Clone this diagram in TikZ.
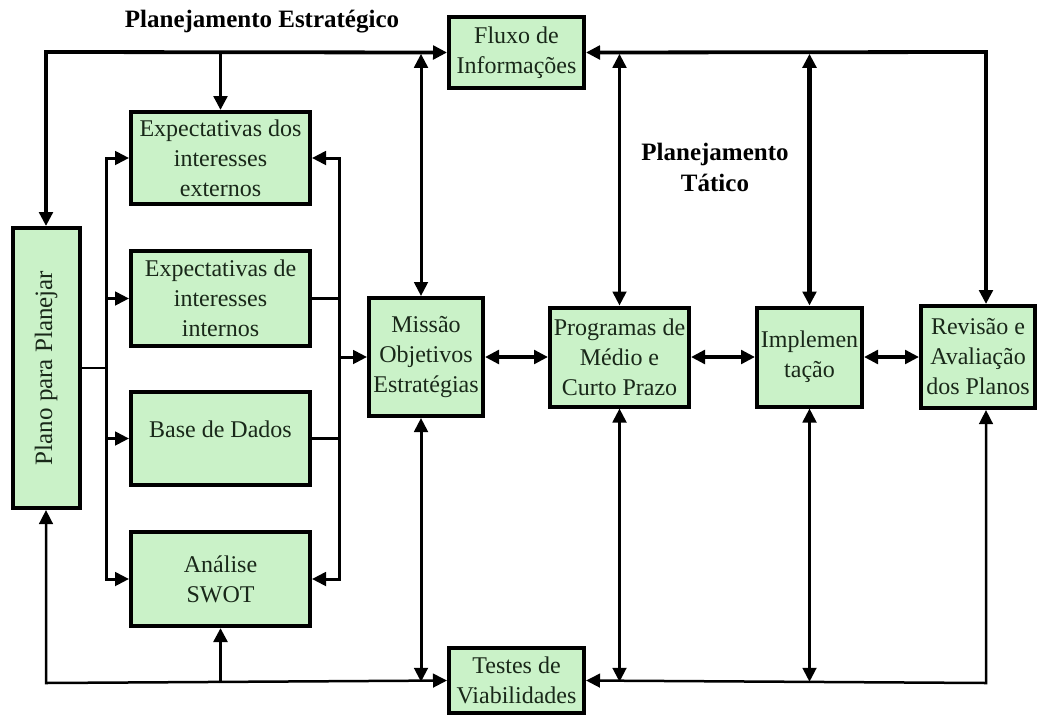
\documentclass[tikz,border=0pt]{standalone}
\usepackage{fontspec}
\setmainfont{Liberation Serif}
\usetikzlibrary{arrows.meta}
\definecolor{boxgreen}{RGB}{202,242,200}
\definecolor{txtdark}{RGB}{25,40,25}
\begin{document}
\begin{tikzpicture}[x=0.5pt,y=-0.5pt,
  box/.style={draw=black, line width=2pt, fill=boxgreen, align=center, inner sep=1pt,
              text=txtdark, font=\fontsize{12}{15}\selectfont},
  conn/.style={line width=1.5pt},
  topconn/.style={line width=1.9pt},
  thinconn/.style={line width=1.25pt},
  thickconn/.style={line width=2.3pt},
  >={Triangle[length=7pt,width=6.8pt]},
  title/.style={font=\bfseries\fontsize{12.5}{15.5}\selectfont, align=center}]
\useasboundingbox (0,0) rectangle (1049,718);

% boxes
\node[box, minimum width=33.5pt, minimum height=140pt] (plano) at (46,368) {};
\node[rotate=90, text=txtdark, font=\fontsize{12.5}{15}\selectfont] (planotxt) at (plano.center) {Plano para Planejar};
\node[box, minimum width=89.5pt, minimum height=46pt] (ext) at (220.5,158) {Expectativas dos\\interesses\\externos};
\node[box, minimum width=89.5pt, minimum height=47.5pt] (int) at (220.5,298.5) {Expectativas de\\interesses\\internos};
\node[box, minimum width=89.5pt, minimum height=46.5pt, text depth=9pt] (base) at (220.5,438.5) {Base de Dados};
\node[box, minimum width=89.5pt, minimum height=47pt] (swot) at (220.5,579) {Análise\\SWOT};
\node[box, minimum width=57pt, minimum height=59pt] (missao) at (426,357) {Missão\\Objetivos\\Estratégias};
\node[box, minimum width=69.5pt, minimum height=49.5pt] (prog) at (619.5,357) {Programas de\\Médio e\\Curto Prazo};
\node[box, minimum width=52.5pt, minimum height=49.5pt] (impl) at (809.5,357) {Implemen\\tação};
\node[box, minimum width=57pt, minimum height=51pt] (rev) at (978,357) {Revisão e\\Avaliação\\dos Planos};
\node[box, minimum width=67.5pt, minimum height=35.5pt] (fluxo) at (516.5,52.5) {Fluxo de\\Informações};
\node[box, minimum width=67.5pt, minimum height=32.5pt] (testes) at (516.5,680.5) {Testes de\\Viabilidades};

% titles
\node[title] (pe) at (262,22) {Planejamento Estratégico};
\node[title] (pt) at (715,167) {Planejamento\\Tático};

% helper coordinates
\coordinate (tl) at (46,52);
\coordinate (tr) at (986,52);
\coordinate (bl) at (46,683);
\coordinate (br) at (986,683);
\coordinate (lb) at (106,368);
\coordinate (rb) at (339,357);
\coordinate (mx) at (421,357);

% top loop
\draw[topconn,<->] (plano.north) -- (tl) -- (fluxo.west);
\draw[topconn,->] (tl -| ext.north) -- (ext.north);
\draw[topconn,<->] (fluxo.east) -- (tr) -- (tr |- rev.north);
\draw[conn,<->,shorten >=0.9pt] (mx |- missao.north) -- (mx |- tl);
\draw[conn,<->,shorten >=0.9pt] (prog.north) -- (prog.north |- tl);
\draw[thickconn,<->,shorten >=0.9pt] (impl.north) -- (impl.north |- tl);

% bottom loop
\draw[thinconn,<->] (plano.south) -- (bl) -- (testes.west);
\draw[topconn,->] (bl -| swot.south) -- (swot.south);
\draw[thinconn,<->] (testes.east) -- (br) -- (br |- rev.south);
\draw[conn,<->,shorten >=0.6pt] (mx |- missao.south) -- (mx |- bl);
\draw[conn,<->,shorten >=0.6pt] (prog.south) -- (prog.south |- bl);
\draw[conn,<->,shorten >=0.6pt] (impl.south) -- (impl.south |- bl);

% left bracket
\draw[thinconn] (plano.east) -- (lb);
\draw[conn,<->] (ext.west) -- (lb |- ext.west) -- (lb |- swot.west) -- (swot.west);
\draw[conn,->] (lb |- int.west) -- (int.west);
\draw[conn,->] (lb |- base.west) -- (base.west);

% right bracket
\draw[conn,<->] (ext.east) -- (rb |- ext.east) -- (rb |- swot.east) -- (swot.east);
\draw[conn] (int.east) -- (rb |- int.east);
\draw[conn] (base.east) -- (rb |- base.east);
\draw[conn,->] (rb) -- (missao.west);

% horizontal chain
\draw[topconn,<->] (missao.east) -- (prog.west);
\draw[topconn,<->] (prog.east) -- (impl.west);
\draw[topconn,<->] (impl.east) -- (rev.west);
\end{tikzpicture}
\end{document}
